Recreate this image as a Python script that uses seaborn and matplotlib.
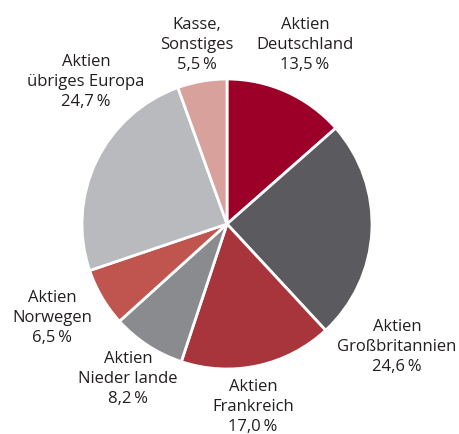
import matplotlib
matplotlib.use("Agg")
import matplotlib.pyplot as plt
import seaborn as sns

sns.set_style("white")
plt.rcParams['font.family'] = ['Open Sans', 'DejaVu Sans']

# Daten
kategorien = ["Aktien\nDeutschland", "Aktien\nGroßbritannien", "Aktien\nFrankreich",
              "Aktien\nNieder lande", "Aktien\nNorwegen", "Aktien\nübriges Europa",
              "Kasse,\nSonstiges"]
anteile = [13.5, 24.6, 17.0, 8.2, 6.5, 24.7, 5.5]
farben = ["#9c0028", "#5b5b5f", "#a8343c", "#8a8b8f", "#c0544f", "#b9babd", "#d9a19b"]

# Label-Positionen (Pixel)
label_pos = [(305, 45), (397, 347), (253, 407), (128, 379), (52, 318), (86, 82), (197, 45)]

fig = plt.figure(figsize=(4.59, 4.35), dpi=100)
ax = fig.add_axes([0, 0, 1, 1])

ax.pie(anteile, colors=farben, startangle=90, counterclock=False,
       center=(227, -225), radius=145, frame=True,
       wedgeprops=dict(edgecolor='white', linewidth=2))
ax.set_xlim(0, 459)
ax.set_ylim(-435, 0)
ax.set_aspect('equal')
ax.axis('off')

for name, wert, (x, y) in zip(kategorien, anteile, label_pos):
    txt = f"{name}\n{wert:.1f}".replace('.', ',') + "\u2009%"
    ax.text(x, -y, txt, ha='center', va='center', fontsize=12,
            color='#231f20', linespacing=1.3)

fig.savefig("out.png", dpi=100)
